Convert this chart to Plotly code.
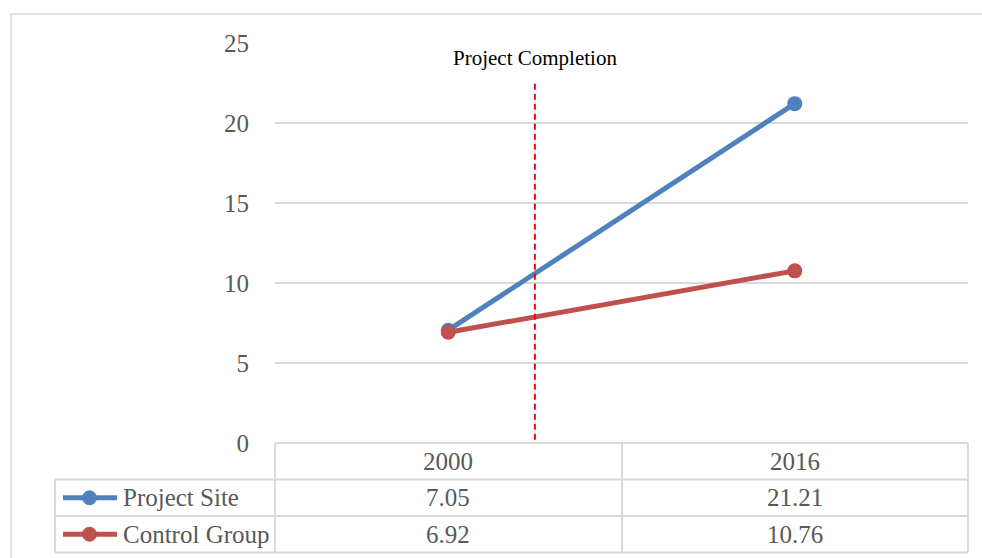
import plotly.graph_objects as go

# Survey values for the two groups
years = ["2000", "2016"]
series_names = ["Project Site", "Control Group"]
project_site = [7.05, 21.21]
control_group = [6.92, 10.76]
series_values = [project_site, control_group]
series_colors = ["#4F81BD", "#C0504D"]

completion_label = "Project Completion"
completion_pos = 0.25   # between the two survey years on the category axis
completion_top = 22.6

y_ticks = [0, 5, 10, 15, 20, 25]

W, H = 982, 558
L, R, T, B = 275, 14, 43, 115
plot_w = W - L - R
plot_h = H - T - B

GRID = "#D9D9D9"
TXT = "#595959"
SERIF = "Liberation Serif, Times New Roman, serif"


def px_x(px):
    return (px - L) / plot_w


def px_y(py):
    return (H - B - py) / plot_h


def cat_paper(i):
    # centre of category i on an axis spanning [-0.5, n - 0.5]
    return (i + 0.5) / len(years)


fig = go.Figure()
for name, vals, col in zip(series_names, series_values, series_colors):
    fig.add_trace(go.Scatter(
        x=years, y=vals, name=name, mode="lines+markers",
        line=dict(color=col, width=5),
        marker=dict(color=col, size=15),
        showlegend=False, cliponaxis=False,
    ))

shapes = []
annotations = []

# outer chart frame
shapes.append(dict(type="rect", xref="paper", yref="paper",
                   x0=px_x(11), x1=px_x(1000), y0=px_y(600), y1=px_y(14),
                   line=dict(color=GRID, width=1.5), layer="below"))

# vertical marker for project completion
shapes.append(dict(type="line", xref="x", yref="y",
                   x0=completion_pos, x1=completion_pos, y0=0.2, y1=completion_top,
                   line=dict(color="#FF0000", width=2, dash="6px,4px")))
annotations.append(dict(xref="x", yref="paper", x=completion_pos, y=px_y(58),
                        text=completion_label, showarrow=False,
                        font=dict(family=SERIF, size=21, color="black"),
                        xanchor="center", yanchor="middle"))

# data table under the plot
row_edges = [443, 479.5, 516, 552.5]
col_edges = [275, 622, 968]
legend_left = 55
# horizontal rules
shapes.append(dict(type="line", xref="paper", yref="paper",
                   x0=px_x(col_edges[0]), x1=px_x(col_edges[-1]),
                   y0=px_y(row_edges[0]), y1=px_y(row_edges[0]),
                   line=dict(color=GRID, width=2)))
for ry in row_edges[1:]:
    shapes.append(dict(type="line", xref="paper", yref="paper",
                       x0=px_x(legend_left), x1=px_x(col_edges[-1]),
                       y0=px_y(ry), y1=px_y(ry),
                       line=dict(color=GRID, width=2)))
# vertical rules
for cx in col_edges:
    shapes.append(dict(type="line", xref="paper", yref="paper",
                       x0=px_x(cx), x1=px_x(cx),
                       y0=px_y(row_edges[0]), y1=px_y(row_edges[-1]),
                       line=dict(color=GRID, width=2)))
shapes.append(dict(type="line", xref="paper", yref="paper",
                   x0=px_x(legend_left), x1=px_x(legend_left),
                   y0=px_y(row_edges[1]), y1=px_y(row_edges[-1]),
                   line=dict(color=GRID, width=2)))

row_centers = [(row_edges[i] + row_edges[i + 1]) / 2 for i in range(3)]

# header row: years
for i, yr in enumerate(years):
    annotations.append(dict(xref="paper", yref="paper", x=cat_paper(i), y=px_y(row_centers[0]),
                            text=yr, showarrow=False,
                            font=dict(family=SERIF, size=25, color=TXT),
                            xanchor="center", yanchor="middle"))

# series rows: legend key + values
for r, (name, vals, col) in enumerate(zip(series_names, series_values, series_colors)):
    cy = row_centers[r + 1]
    shapes.append(dict(type="line", xref="paper", yref="paper",
                       x0=px_x(63), x1=px_x(117), y0=px_y(cy), y1=px_y(cy),
                       line=dict(color=col, width=5)))
    shapes.append(dict(type="circle", xref="paper", yref="paper",
                       x0=px_x(82.5), x1=px_x(96.5), y0=px_y(cy + 7), y1=px_y(cy - 7),
                       fillcolor=col, line=dict(color=col, width=1)))
    annotations.append(dict(xref="paper", yref="paper", x=px_x(121), y=px_y(cy),
                            text=name, showarrow=False,
                            font=dict(family=SERIF, size=25, color=TXT),
                            xanchor="left", yanchor="middle"))
    for i, v in enumerate(vals):
        annotations.append(dict(xref="paper", yref="paper", x=cat_paper(i), y=px_y(cy),
                                text=f"{v:.2f}", showarrow=False,
                                font=dict(family=SERIF, size=25, color=TXT),
                                xanchor="center", yanchor="middle"))

fig.update_layout(
    width=W, height=H,
    margin=dict(l=L, r=R, t=T, b=B),
    paper_bgcolor="white", plot_bgcolor="white",
    shapes=shapes, annotations=annotations,
    xaxis=dict(type="category", categoryorder="array", categoryarray=years,
               range=[-0.5, len(years) - 0.5], showticklabels=False, showgrid=False,
               zeroline=False, showline=False, ticks=""),
    yaxis=dict(range=[0, 25], tickvals=y_ticks, showgrid=True, gridcolor=GRID,
               gridwidth=1.5, zeroline=False, showline=False,
               ticks="outside", ticklen=20, tickcolor="rgba(0,0,0,0)",
               tickfont=dict(family=SERIF, size=25, color=TXT)),
)

fig.write_html("out.html")
